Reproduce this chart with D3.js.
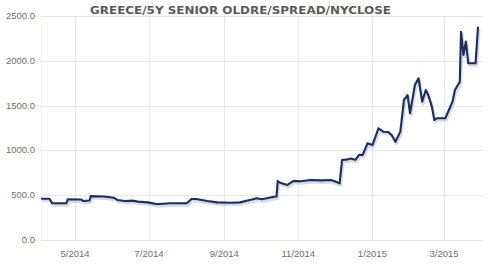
<!DOCTYPE html>
<html><head><meta charset="utf-8">
<script src="https://cdn.jsdelivr.net/npm/d3@7"></script>
<style>html,body{margin:0;padding:0;background:#fff;}svg{display:block;}</style>
</head><body>
<svg id="chart" width="490" height="266"></svg>
<script>
const title = "GREECE/5Y SENIOR OLDRE/SPREAD/NYCLOSE";
const dates = ["2014-04-03","2014-04-10","2014-04-12","2014-04-24","2014-04-25","2014-05-06","2014-05-08","2014-05-13","2014-05-14","2014-05-25","2014-06-02","2014-06-05","2014-06-11","2014-06-18","2014-06-22","2014-06-30","2014-07-07","2014-07-10","2014-07-18","2014-08-01","2014-08-05","2014-08-09","2014-08-18","2014-08-26","2014-09-06","2014-09-14","2014-09-22","2014-09-28","2014-10-02","2014-10-08","2014-10-12","2014-10-14","2014-10-15","2014-10-17","2014-10-23","2014-10-28","2014-11-03","2014-11-11","2014-11-20","2014-11-28","2014-12-02","2014-12-05","2014-12-07","2014-12-12","2014-12-14","2014-12-18","2014-12-21","2014-12-24","2014-12-28","2015-01-01","2015-01-06","2015-01-10","2015-01-14","2015-01-17","2015-01-20","2015-01-24","2015-01-27","2015-01-30","2015-02-01","2015-02-05","2015-02-08","2015-02-11","2015-02-14","2015-02-16","2015-02-19","2015-02-21","2015-02-23","2015-03-02","2015-03-05","2015-03-08","2015-03-10","2015-03-14","2015-03-15","2015-03-17","2015-03-19","2015-03-21","2015-03-27","2015-03-29"];
const values = [460,460,412,410,455,452,435,440,490,485,472,446,435,439,428,420,402,402,410,410,458,458,435,420,416,420,446,465,454,472,483,485,658,640,615,660,655,670,665,670,650,632,893,900,910,895,950,950,1080,1060,1246,1209,1205,1170,1097,1210,1563,1618,1414,1730,1805,1544,1674,1618,1488,1339,1358,1358,1451,1544,1674,1767,2325,2065,2215,1972,1972,2380];
const yTicks = [0,500,1000,1500,2000,2500];
const xTicks = ["2014-05-01","2014-07-01","2014-09-01","2014-11-01","2015-01-01","2015-03-01"];

(function(){
const parse = d3.timeParse("%Y-%m-%d");
const data = dates.map((d,i)=>({date:parse(d), value:values[i]}));
const svg = d3.select("#chart");
const pL = 41, pR = 478, pT = 16, pB = 240;

const x = d3.scaleTime().domain(d3.extent(data, d=>d.date)).range([pL, pR]);
const y = d3.scaleLinear().domain([0, 2500]).range([pB, pT]);

svg.append("g").selectAll("line").data(yTicks).join("line")
  .attr("x1", pL).attr("x2", 483)
  .attr("y1", d=>Math.round(y(d))+0.5).attr("y2", d=>Math.round(y(d))+0.5)
  .attr("stroke", "#e6e6e6").attr("stroke-width", 1);

const xt = xTicks.map(parse);
svg.append("g").selectAll("line").data(xt).join("line")
  .attr("x1", d=>Math.round(x(d))+0.5).attr("x2", d=>Math.round(x(d))+0.5)
  .attr("y1", pT).attr("y2", pB)
  .attr("stroke", "#e6e6e6").attr("stroke-width", 1);
svg.append("line").attr("x1", pL+0.5).attr("x2", pL+0.5).attr("y1", pT).attr("y2", pB)
  .attr("stroke", "#f0f0f0");

const fmt = d3.format(".1f");
svg.append("g").selectAll("text").data(yTicks).join("text")
  .attr("x", 35).attr("y", d=>y(d)+3)
  .attr("text-anchor", "end")
  .attr("font-family", "Liberation Sans, Arial, sans-serif").attr("font-size", 9.5)
  .attr("fill", "#6e6e6e").text(d=>fmt(d));

const xf = d3.timeFormat("%-m/%Y");
svg.append("g").selectAll("text").data(xt).join("text")
  .attr("x", d=>x(d)).attr("y", 257)
  .attr("text-anchor", "middle")
  .attr("font-family", "Liberation Sans, Arial, sans-serif").attr("font-size", 9.5)
  .attr("fill", "#6e6e6e").text(d=>xf(d));

const line = d3.line().x(d=>x(d.date)).y(d=>y(d.value));
svg.append("path").datum(data).attr("d", line)
  .attr("fill","none").attr("stroke","#9fb0c8").attr("stroke-width",3).attr("opacity",0.45)
  .attr("transform","translate(1,2)").attr("stroke-linejoin","round");
svg.append("path").datum(data).attr("d", line)
  .attr("fill","none").attr("stroke","#1b2f5e").attr("stroke-width",2.1)
  .attr("stroke-linejoin","round");

svg.append("text").attr("x", 240.5).attr("y", 13.5)
  .attr("text-anchor","middle")
  .attr("font-family","DejaVu Sans, Verdana, sans-serif").attr("font-weight","bold")
  .attr("font-size", 11).attr("fill","#5a5a5a")
  .attr("textLength", 301).attr("lengthAdjust","spacingAndGlyphs")
  .text(title);
})();
</script>
</body></html>
